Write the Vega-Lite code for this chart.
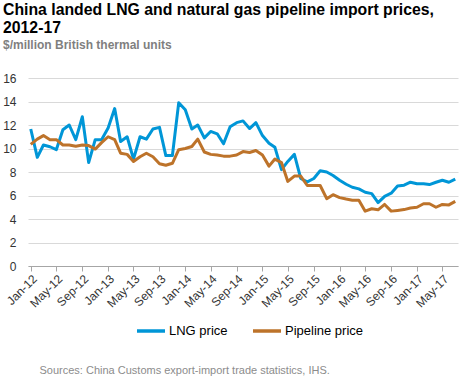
{
  "$schema": "https://vega.github.io/schema/vega-lite/v6.json",
  "width": 430,
  "height": 188,
  "autosize": {"type": "none"},
  "padding": {"left": 28, "top": 78, "right": 10, "bottom": 112},
  "config": {"font": "Liberation Sans", "view": {"stroke": null}},
  "title": {
    "text": ["China landed LNG and natural gas pipeline import prices,", "2012-17"],
    "subtitle": "$/million British thermal units",
    "anchor": "start",
    "frame": "group",
    "dx": -25,
    "offset": 20,
    "font": "Liberation Sans",
    "fontSize": 15.8,
    "fontWeight": "bold",
    "color": "#000000",
    "lineHeight": 18,
    "subtitleFont": "Liberation Sans",
    "subtitleFontSize": 12,
    "subtitleFontWeight": "bold",
    "subtitleColor": "#7f7f7f",
    "subtitlePadding": 3
  },
  "datasets": {
    "prices": [
      {"date": "2012-01", "series": "LNG price", "price": 11.66},
      {"date": "2012-02", "series": "LNG price", "price": 9.25},
      {"date": "2012-03", "series": "LNG price", "price": 10.3},
      {"date": "2012-04", "series": "LNG price", "price": 10.15},
      {"date": "2012-05", "series": "LNG price", "price": 9.9},
      {"date": "2012-06", "series": "LNG price", "price": 11.6},
      {"date": "2012-07", "series": "LNG price", "price": 12.0},
      {"date": "2012-08", "series": "LNG price", "price": 10.75},
      {"date": "2012-09", "series": "LNG price", "price": 12.7},
      {"date": "2012-10", "series": "LNG price", "price": 8.8},
      {"date": "2012-11", "series": "LNG price", "price": 10.75},
      {"date": "2012-12", "series": "LNG price", "price": 10.75},
      {"date": "2013-01", "series": "LNG price", "price": 11.75},
      {"date": "2013-02", "series": "LNG price", "price": 13.4},
      {"date": "2013-03", "series": "LNG price", "price": 10.6},
      {"date": "2013-04", "series": "LNG price", "price": 11.0},
      {"date": "2013-05", "series": "LNG price", "price": 9.1},
      {"date": "2013-06", "series": "LNG price", "price": 11.0},
      {"date": "2013-07", "series": "LNG price", "price": 10.8},
      {"date": "2013-08", "series": "LNG price", "price": 11.66},
      {"date": "2013-09", "series": "LNG price", "price": 11.8},
      {"date": "2013-10", "series": "LNG price", "price": 9.4},
      {"date": "2013-11", "series": "LNG price", "price": 9.4},
      {"date": "2013-12", "series": "LNG price", "price": 13.9},
      {"date": "2014-01", "series": "LNG price", "price": 13.3},
      {"date": "2014-02", "series": "LNG price", "price": 11.66},
      {"date": "2014-03", "series": "LNG price", "price": 12.0},
      {"date": "2014-04", "series": "LNG price", "price": 10.9},
      {"date": "2014-05", "series": "LNG price", "price": 11.45},
      {"date": "2014-06", "series": "LNG price", "price": 11.25},
      {"date": "2014-07", "series": "LNG price", "price": 10.4},
      {"date": "2014-08", "series": "LNG price", "price": 11.85},
      {"date": "2014-09", "series": "LNG price", "price": 12.2},
      {"date": "2014-10", "series": "LNG price", "price": 12.35},
      {"date": "2014-11", "series": "LNG price", "price": 11.7},
      {"date": "2014-12", "series": "LNG price", "price": 12.2},
      {"date": "2015-01", "series": "LNG price", "price": 11.1},
      {"date": "2015-02", "series": "LNG price", "price": 10.45},
      {"date": "2015-03", "series": "LNG price", "price": 10.1},
      {"date": "2015-04", "series": "LNG price", "price": 8.2},
      {"date": "2015-05", "series": "LNG price", "price": 8.9},
      {"date": "2015-06", "series": "LNG price", "price": 9.5},
      {"date": "2015-07", "series": "LNG price", "price": 7.45},
      {"date": "2015-08", "series": "LNG price", "price": 7.16},
      {"date": "2015-09", "series": "LNG price", "price": 7.45},
      {"date": "2015-10", "series": "LNG price", "price": 8.1},
      {"date": "2015-11", "series": "LNG price", "price": 8.0},
      {"date": "2015-12", "series": "LNG price", "price": 7.7},
      {"date": "2016-01", "series": "LNG price", "price": 7.3},
      {"date": "2016-02", "series": "LNG price", "price": 6.96},
      {"date": "2016-03", "series": "LNG price", "price": 6.7},
      {"date": "2016-04", "series": "LNG price", "price": 6.56},
      {"date": "2016-05", "series": "LNG price", "price": 6.28},
      {"date": "2016-06", "series": "LNG price", "price": 6.16},
      {"date": "2016-07", "series": "LNG price", "price": 5.4},
      {"date": "2016-08", "series": "LNG price", "price": 5.93},
      {"date": "2016-09", "series": "LNG price", "price": 6.2},
      {"date": "2016-10", "series": "LNG price", "price": 6.8},
      {"date": "2016-11", "series": "LNG price", "price": 6.88},
      {"date": "2016-12", "series": "LNG price", "price": 7.13},
      {"date": "2017-01", "series": "LNG price", "price": 7.0},
      {"date": "2017-02", "series": "LNG price", "price": 7.0},
      {"date": "2017-03", "series": "LNG price", "price": 6.93},
      {"date": "2017-04", "series": "LNG price", "price": 7.13},
      {"date": "2017-05", "series": "LNG price", "price": 7.3},
      {"date": "2017-06", "series": "LNG price", "price": 7.13},
      {"date": "2017-07", "series": "LNG price", "price": 7.4},
      {"date": "2012-01", "series": "Pipeline price", "price": 10.35},
      {"date": "2012-02", "series": "Pipeline price", "price": 10.8},
      {"date": "2012-03", "series": "Pipeline price", "price": 11.1},
      {"date": "2012-04", "series": "Pipeline price", "price": 10.75},
      {"date": "2012-05", "series": "Pipeline price", "price": 10.75},
      {"date": "2012-06", "series": "Pipeline price", "price": 10.3},
      {"date": "2012-07", "series": "Pipeline price", "price": 10.3},
      {"date": "2012-08", "series": "Pipeline price", "price": 10.2},
      {"date": "2012-09", "series": "Pipeline price", "price": 10.3},
      {"date": "2012-10", "series": "Pipeline price", "price": 10.25},
      {"date": "2012-11", "series": "Pipeline price", "price": 9.95},
      {"date": "2012-12", "series": "Pipeline price", "price": 10.5},
      {"date": "2013-01", "series": "Pipeline price", "price": 11.0},
      {"date": "2013-02", "series": "Pipeline price", "price": 10.75},
      {"date": "2013-03", "series": "Pipeline price", "price": 9.6},
      {"date": "2013-04", "series": "Pipeline price", "price": 9.5},
      {"date": "2013-05", "series": "Pipeline price", "price": 8.9},
      {"date": "2013-06", "series": "Pipeline price", "price": 9.3},
      {"date": "2013-07", "series": "Pipeline price", "price": 9.6},
      {"date": "2013-08", "series": "Pipeline price", "price": 9.3},
      {"date": "2013-09", "series": "Pipeline price", "price": 8.7},
      {"date": "2013-10", "series": "Pipeline price", "price": 8.57},
      {"date": "2013-11", "series": "Pipeline price", "price": 8.74},
      {"date": "2013-12", "series": "Pipeline price", "price": 9.9},
      {"date": "2014-01", "series": "Pipeline price", "price": 10.0},
      {"date": "2014-02", "series": "Pipeline price", "price": 10.17},
      {"date": "2014-03", "series": "Pipeline price", "price": 10.8},
      {"date": "2014-04", "series": "Pipeline price", "price": 9.7},
      {"date": "2014-05", "series": "Pipeline price", "price": 9.5},
      {"date": "2014-06", "series": "Pipeline price", "price": 9.45},
      {"date": "2014-07", "series": "Pipeline price", "price": 9.35},
      {"date": "2014-08", "series": "Pipeline price", "price": 9.35},
      {"date": "2014-09", "series": "Pipeline price", "price": 9.45},
      {"date": "2014-10", "series": "Pipeline price", "price": 9.74},
      {"date": "2014-11", "series": "Pipeline price", "price": 9.66},
      {"date": "2014-12", "series": "Pipeline price", "price": 9.83},
      {"date": "2015-01", "series": "Pipeline price", "price": 9.45},
      {"date": "2015-02", "series": "Pipeline price", "price": 8.5},
      {"date": "2015-03", "series": "Pipeline price", "price": 9.1},
      {"date": "2015-04", "series": "Pipeline price", "price": 8.8},
      {"date": "2015-05", "series": "Pipeline price", "price": 7.2},
      {"date": "2015-06", "series": "Pipeline price", "price": 7.65},
      {"date": "2015-07", "series": "Pipeline price", "price": 7.65},
      {"date": "2015-08", "series": "Pipeline price", "price": 6.85},
      {"date": "2015-09", "series": "Pipeline price", "price": 6.85},
      {"date": "2015-10", "series": "Pipeline price", "price": 6.85},
      {"date": "2015-11", "series": "Pipeline price", "price": 5.73},
      {"date": "2015-12", "series": "Pipeline price", "price": 6.07},
      {"date": "2016-01", "series": "Pipeline price", "price": 5.82},
      {"date": "2016-02", "series": "Pipeline price", "price": 5.7},
      {"date": "2016-03", "series": "Pipeline price", "price": 5.6},
      {"date": "2016-04", "series": "Pipeline price", "price": 5.6},
      {"date": "2016-05", "series": "Pipeline price", "price": 4.67},
      {"date": "2016-06", "series": "Pipeline price", "price": 4.87},
      {"date": "2016-07", "series": "Pipeline price", "price": 4.78},
      {"date": "2016-08", "series": "Pipeline price", "price": 5.24},
      {"date": "2016-09", "series": "Pipeline price", "price": 4.67},
      {"date": "2016-10", "series": "Pipeline price", "price": 4.73},
      {"date": "2016-11", "series": "Pipeline price", "price": 4.8},
      {"date": "2016-12", "series": "Pipeline price", "price": 4.93},
      {"date": "2017-01", "series": "Pipeline price", "price": 5.0},
      {"date": "2017-02", "series": "Pipeline price", "price": 5.3},
      {"date": "2017-03", "series": "Pipeline price", "price": 5.3},
      {"date": "2017-04", "series": "Pipeline price", "price": 5.0},
      {"date": "2017-05", "series": "Pipeline price", "price": 5.24},
      {"date": "2017-06", "series": "Pipeline price", "price": 5.2},
      {"date": "2017-07", "series": "Pipeline price", "price": 5.5}
    ]
  },
  "data": {"name": "prices"},
  "mark": {"type": "line", "strokeWidth": 3, "strokeJoin": "round"},
  "encoding": {
    "x": {
      "field": "date",
      "type": "temporal",
      "scale": {
        "type": "utc",
        "domain": [
          {"year": 2011, "month": 12, "date": 19, "utc": true},
          {"year": 2017, "month": 7, "date": 14, "utc": true}
        ]
      },
      "axis": {
        "format": "%b-%y",
        "tickCount": {"interval": "month", "step": 4},
        "labelAngle": -45,
        "labelOverlap": false,
        "labelFlush": false,
        "labelFontSize": 12,
        "labelColor": "#333333",
        "labelPadding": 2,
        "grid": false,
        "domainColor": "#a6a6a6",
        "tickColor": "#a6a6a6",
        "tickSize": 5,
        "title": "Sources: China Customs export-import trade statistics, IHS.",
        "titleX": 11,
        "titleY": 107,
        "titleAlign": "left",
        "titleAnchor": "start",
        "titleBaseline": "alphabetic",
        "titleFontSize": 11,
        "titleFontWeight": "normal",
        "titleColor": "#8c8c8c"
      }
    },
    "y": {
      "field": "price",
      "type": "quantitative",
      "scale": {"domain": [0, 16]},
      "axis": {
        "values": [0, 2, 4, 6, 8, 10, 12, 14, 16],
        "title": null,
        "domain": false,
        "ticks": false,
        "gridColor": "#d9d9d9",
        "labelFontSize": 12,
        "labelColor": "#333333",
        "labelPadding": 12
      }
    },
    "color": {
      "field": "series",
      "type": "nominal",
      "scale": {"domain": ["LNG price", "Pipeline price"], "range": ["#0096d7", "#bd732a"]},
      "legend": {
        "title": null,
        "orient": "none",
        "legendX": 107,
        "legendY": 237,
        "direction": "horizontal",
        "symbolType": "stroke",
        "symbolSize": 784,
        "symbolStrokeWidth": 3.5,
        "labelFontSize": 13,
        "labelColor": "#000000",
        "labelOffset": 2,
        "columnPadding": 18
      }
    }
  }
}
